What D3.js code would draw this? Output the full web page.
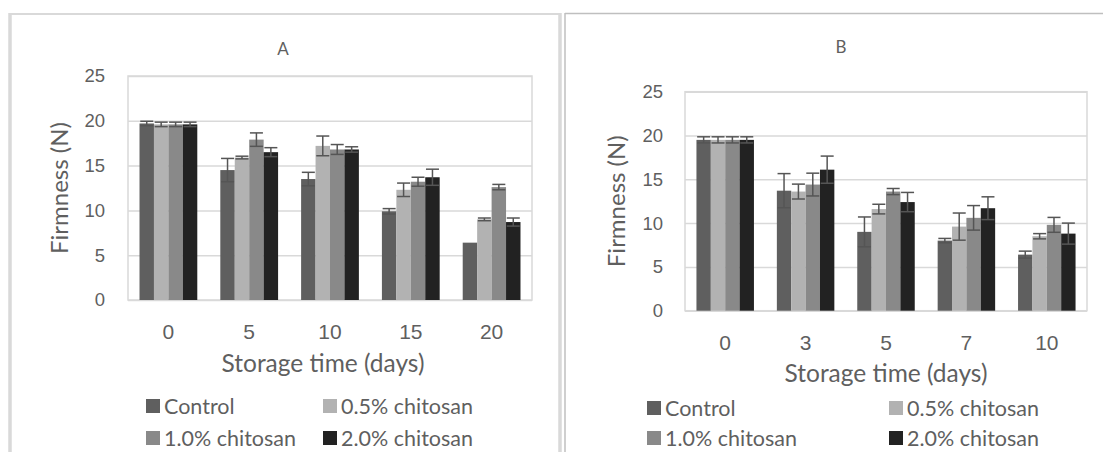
<!DOCTYPE html>
<html>
<head>
<meta charset="utf-8">
<script src="https://cdn.jsdelivr.net/npm/d3@7"></script>
<style>
  body { margin: 0; background: #fff; }
  svg { display: block; font-family: Lato, "Open Sans", sans-serif; }
</style>
</head>
<body>
<div id="svg-container"></div>
<script>
// series names + colours
var seriesNames = ["Control", "0.5% chitosan", "1.0% chitosan", "2.0% chitosan"];
var seriesColors = ["#5f5f5f", "#b2b2b2", "#898989", "#222222"];
var yTicks = [0, 5, 10, 15, 20, 25];

// panel A data (storage days)
var daysA = ["0", "5", "10", "15", "20"];
var controlA = [19.7, 14.5, 13.5, 9.9, 6.4];
var chit05A  = [19.6, 15.9, 17.2, 12.3, 9.0];
var chit10A  = [19.6, 17.9, 16.8, 13.2, 12.6];
var chit20A  = [19.6, 16.5, 16.8, 13.7, 8.7];
var controlErrA = [0.25, 1.3, 0.75, 0.3, 0.0];
var chit05ErrA  = [0.25, 0.15, 1.1, 0.75, 0.15];
var chit10ErrA  = [0.25, 0.75, 0.55, 0.5, 0.3];
var chit20ErrA  = [0.25, 0.5, 0.3, 0.9, 0.45];

// panel B data
var daysB = ["0", "3", "5", "7", "10"];
var controlB = [19.5, 13.7, 9.0, 8.0, 6.4];
var chit05B  = [19.5, 13.6, 11.6, 9.6, 8.5];
var chit10B  = [19.5, 14.4, 13.6, 10.6, 9.8];
var chit20B  = [19.5, 16.1, 12.4, 11.7, 8.8];
var controlErrB = [0.35, 1.95, 1.7, 0.25, 0.4];
var chit05ErrB  = [0.35, 0.85, 0.55, 1.55, 0.3];
var chit10ErrB  = [0.35, 1.3, 0.35, 1.4, 0.85];
var chit20ErrB  = [0.35, 1.55, 1.1, 1.3, 1.2];

var textColor = "#5f5f5f";
var gridColor = "#d9d9d9";

var svg = d3.select("#svg-container")
    .append("svg")
    .attr("width", 1103)
    .attr("height", 452);

// panel frames
svg.append("line").attr("x1", 10).attr("x2", 10).attr("y1", 13).attr("y2", 452)
  .attr("stroke", gridColor).attr("stroke-width", 3.5);
svg.append("line").attr("x1", 10).attr("x2", 560).attr("y1", 14).attr("y2", 14)
  .attr("stroke", gridColor).attr("stroke-width", 2);
svg.append("line").attr("x1", 560).attr("x2", 560).attr("y1", 13).attr("y2", 452)
  .attr("stroke", gridColor).attr("stroke-width", 3.5);
svg.append("line").attr("x1", 565).attr("x2", 565).attr("y1", 13).attr("y2", 452)
  .attr("stroke", "#bfbfbf").attr("stroke-width", 1.5);
svg.append("line").attr("x1", 565).attr("x2", 1103).attr("y1", 13.5).attr("y2", 13.5)
  .attr("stroke", "#bfbfbf").attr("stroke-width", 1.5);

function drawPanel(p) {
  var g = svg.append("g");
  var width = p.right - p.left;

  var x0 = d3.scaleBand()
    .domain(p.days)
    .range([p.left, p.right])
    .paddingInner(0.285)
    .paddingOuter(0.1425);
  var x1 = d3.scaleBand()
    .domain(seriesNames)
    .range([0, x0.bandwidth()]);
  var y = d3.scaleLinear()
    .domain([0, 25])
    .range([p.bottom, p.top]);

  // gridlines
  g.append("g")
    .attr("transform", "translate(" + p.left + ",0)")
    .call(d3.axisLeft(y).tickValues(yTicks).tickSize(-width).tickFormat(""))
    .call(a => a.select(".domain").remove())
    .selectAll("line").attr("stroke", gridColor).attr("stroke-width", 1.5);

  // plot border
  g.append("rect")
    .attr("x", p.left).attr("y", p.top)
    .attr("width", width).attr("height", p.bottom - p.top)
    .attr("fill", "none").attr("stroke", gridColor).attr("stroke-width", 1.5);

  // bars
  var rows = [];
  p.values.forEach(function(vals, si) {
    vals.forEach(function(v, di) {
      rows.push({day: p.days[di], series: seriesNames[si], si: si, value: v, err: p.errs[si][di]});
    });
  });

  g.selectAll("rect.bar")
    .data(rows)
    .enter()
    .append("rect")
    .attr("class", "bar")
    .attr("x", d => x0(d.day) + x1(d.series))
    .attr("y", d => y(d.value))
    .attr("width", x1.bandwidth())
    .attr("height", d => y(0) - y(d.value))
    .attr("fill", d => seriesColors[d.si]);

  // error bars
  var eb = g.selectAll("g.err")
    .data(rows.filter(d => d.err > 0))
    .enter()
    .append("g")
    .attr("class", "err")
    .attr("stroke", "#555555")
    .attr("stroke-width", 1.5);
  var cx = d => x0(d.day) + x1(d.series) + x1.bandwidth() / 2;
  eb.append("line")
    .attr("x1", cx).attr("x2", cx)
    .attr("y1", d => y(d.value + d.err)).attr("y2", d => y(d.value - d.err));
  eb.append("line")
    .attr("x1", d => cx(d) - 6.5).attr("x2", d => cx(d) + 6.5)
    .attr("y1", d => y(d.value + d.err)).attr("y2", d => y(d.value + d.err));
  eb.append("line")
    .attr("x1", d => cx(d) - 6.5).attr("x2", d => cx(d) + 6.5)
    .attr("y1", d => y(d.value - d.err)).attr("y2", d => y(d.value - d.err));

  // y axis labels
  g.append("g")
    .attr("transform", "translate(" + p.left + ",0)")
    .call(d3.axisLeft(y).tickValues(yTicks).tickSize(0).tickPadding(p.yPad))
    .call(a => a.select(".domain").remove())
    .selectAll("text")
    .attr("fill", textColor)
    .style("font-size", "18.5px");

  // x axis labels
  g.append("g")
    .attr("transform", "translate(0," + p.bottom + ")")
    .call(d3.axisBottom(x0).tickSize(0))
    .call(a => a.select(".domain").remove())
    .selectAll("text")
    .attr("y", p.xLabY - p.bottom)
    .attr("dy", "0.35em")
    .attr("fill", textColor)
    .style("font-size", "21px");

  // titles
  g.append("text")
    .attr("x", p.titleX).attr("y", p.titleY)
    .attr("dy", "0.35em")
    .attr("text-anchor", "middle")
    .attr("fill", textColor)
    .style("font-size", "17px")
    .text(p.title);

  g.append("text")
    .attr("transform", "translate(" + p.yLabX + "," + ((p.top + p.bottom) / 2) + ") rotate(-90)")
    .attr("dy", "0.35em")
    .attr("text-anchor", "middle")
    .attr("fill", textColor)
    .style("font-size", "24px")
    .text("Firmness (N)");

  g.append("text")
    .attr("x", p.xTitleX).attr("y", p.xTitleY)
    .attr("dy", "0.35em")
    .attr("text-anchor", "middle")
    .attr("fill", textColor)
    .style("font-size", "24.5px")
    .text("Storage time (days)");

  // legend
  var leg = g.selectAll("g.leg")
    .data(seriesNames)
    .enter()
    .append("g")
    .attr("class", "leg")
    .attr("transform", (d, i) => "translate(" + p.legX[i % 2] + "," + p.legY[Math.floor(i / 2)] + ")");
  leg.append("rect")
    .attr("x", 0).attr("y", -7)
    .attr("width", 14).attr("height", 14)
    .attr("fill", (d, i) => seriesColors[i]);
  leg.append("text")
    .attr("x", 18).attr("y", 0)
    .attr("dy", "0.35em")
    .attr("fill", textColor)
    .style("font-size", "21.5px")
    .text(d => d);
}

drawPanel({
  title: "A", days: daysA,
  values: [controlA, chit05A, chit10A, chit20A],
  errs: [controlErrA, chit05ErrA, chit10ErrA, chit20ErrA],
  left: 128, right: 532, top: 76, bottom: 300,
  yPad: 23, xLabY: 332, titleX: 283, titleY: 49,
  yLabX: 60, xTitleX: 323, xTitleY: 363,
  legX: [146, 323], legY: [406, 438]
});

drawPanel({
  title: "B", days: daysB,
  values: [controlB, chit05B, chit10B, chit20B],
  errs: [controlErrB, chit05ErrB, chit10ErrB, chit20ErrB],
  left: 685, right: 1087, top: 91.7, bottom: 310.7,
  yPad: 22, xLabY: 343, titleX: 841, titleY: 47,
  yLabX: 617, xTitleX: 886, xTitleY: 373,
  legX: [647, 889], legY: [408, 438]
});
</script>
</body>
</html>
